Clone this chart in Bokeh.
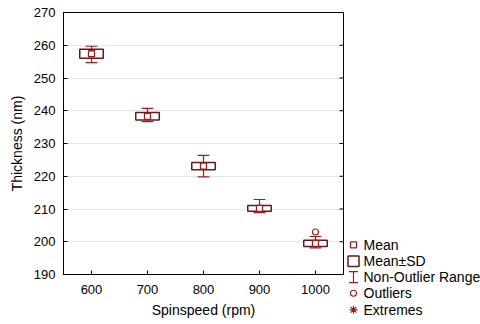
import numpy as np
from bokeh.plotting import figure
from bokeh.layouts import row, column
from bokeh.models import Range1d, FixedTicker
from bokeh.core.properties import value
from bokeh.embed import file_html
from bokeh.resources import INLINE

# Film thickness by spin speed: mean, standard deviation, non-outlier range
speeds = [600, 700, 800, 900, 1000]
mean_nm = [257.4, 238.3, 223.1, 210.2, 199.5]
sd_nm = [1.4, 1.15, 1.1, 0.9, 0.95]
range_min = [254.7, 236.7, 219.8, 208.9, 198.1]
range_max = [259.7, 240.7, 226.4, 212.9, 201.6]
outlier_speed = [1000]
outlier_nm = [203.0]

x_ticks = [600, 700, 800, 900, 1000]
y_ticks = [190, 200, 210, 220, 230, 240, 250, 260, 270]

FONT = "Liberation Sans"
BOX_COL = "#5e1c1c"
RED = "#a01c1c"
BOX_W = 42
CAP_W = 21

sp = np.array(speeds, dtype=float)
mu = np.array(mean_nm)
sd = np.array(sd_nm)

xr = Range1d(550, 1050)
yr = Range1d(190, 270)
p = figure(width=346, height=324, output_backend="svg", toolbar_location=None,
           x_range=xr, y_range=yr,
           min_border_left=63, min_border_right=3, min_border_top=12,
           min_border_bottom=50)
p.outline_line_color = "black"
p.outline_line_width = 1
p.xgrid.visible = False
p.ygrid.grid_line_color = "#e6e6e6"
p.ygrid.ticker = FixedTicker(ticks=y_ticks)

# inward ticks along the right edge of the frame
tick_len = 4 * (xr.end - xr.start) / 280
p.segment(x0=[xr.end] * len(y_ticks), y0=y_ticks,
          x1=[xr.end - tick_len] * len(y_ticks), y1=y_ticks,
          line_color="black", line_width=1)

# whiskers (non-outlier range) with caps
p.segment(x0=sp, y0=np.array(range_min), x1=sp, y1=np.array(range_max),
          line_color=RED, line_width=1.2)
p.segment(x0=sp - CAP_W / 2, y0=np.array(range_min), x1=sp + CAP_W / 2,
          y1=np.array(range_min), line_color=RED, line_width=1.2)
p.segment(x0=sp - CAP_W / 2, y0=np.array(range_max), x1=sp + CAP_W / 2,
          y1=np.array(range_max), line_color=RED, line_width=1.2)

# mean +/- SD boxes
p.rect(x=sp, y=mu, width=BOX_W, height=2 * sd, fill_color="white",
       line_color=BOX_COL, line_width=1.5)
# mean markers
p.scatter(x=sp, y=mu, marker="square", size=6, fill_color="white",
          line_color=RED, line_width=1.3)
# outliers
p.scatter(x=outlier_speed, y=outlier_nm, marker="circle", size=6,
          fill_color="white", line_color=RED, line_width=1.1)

for ax in (p.xaxis[0], p.yaxis[0]):
    ax.major_tick_in = 4
    ax.major_tick_out = 0
    ax.minor_tick_line_color = None
    ax.axis_line_color = "black"
    ax.major_tick_line_color = "black"
    ax.major_label_text_font = FONT
    ax.major_label_text_font_size = "13px"
    ax.major_label_text_color = "black"
    ax.axis_label_text_font = FONT
    ax.axis_label_text_font_size = "14px"
    ax.axis_label_text_font_style = "normal"
    ax.axis_label_text_color = "black"

p.xaxis.ticker = FixedTicker(ticks=x_ticks)
p.yaxis.ticker = FixedTicker(ticks=y_ticks)
p.xaxis.axis_label = "Spinspeed (rpm)"
p.yaxis.axis_label = "Thickness (nm)"
p.xaxis.major_label_standoff = 10
p.xaxis.axis_label_standoff = 5
p.yaxis.major_label_standoff = 8
p.yaxis.axis_label_standoff = 6

# legend panel (coordinates in pixels of the panel)
lw = 480 - 346
leg = figure(frame_width=lw, frame_height=324, output_backend="svg",
             toolbar_location=None,
             x_range=Range1d(0, lw), y_range=Range1d(324, 0),
             x_axis_location=None, y_axis_location=None,
             min_border_left=0, min_border_right=0, min_border_top=0,
             min_border_bottom=0, outline_line_color=None)
leg.grid.visible = False

kx = 7
rows_y = [244.3, 260.7, 276.7, 292.7, 309.3]
labels = ["Mean", "Mean\u00b1SD", "Non-Outlier Range", "Outliers", "Extremes"]

leg.scatter(x=[kx], y=[rows_y[0]], marker="square", size=6, fill_color="white",
            line_color=RED, line_width=1.3)
leg.rect(x=[kx], y=[rows_y[1]], width=11, height=10.5, fill_color="white",
         line_color=BOX_COL, line_width=1.5)
yi = rows_y[2]
leg.segment(x0=[kx, kx - 4.5, kx - 4.5], y0=[yi - 5.5, yi - 5.5, yi + 5.5],
            x1=[kx, kx + 4.5, kx + 4.5], y1=[yi + 5.5, yi - 5.5, yi + 5.5],
            line_color=RED, line_width=1.2)
leg.scatter(x=[kx], y=[rows_y[3]], marker="circle", size=6, fill_color="white",
            line_color=RED, line_width=1.1)
leg.scatter(x=[kx], y=[rows_y[4]], marker="asterisk", size=8,
            line_color=RED, line_width=1.2)
leg.text(x=[17] * 5, y=rows_y, text=labels, text_font=value(FONT),
         text_font_size="14px", text_baseline="middle", text_align="left",
         text_color="black")

layout = row(p, column(leg), spacing=0)

with open("out.html", "w") as f:
    f.write(file_html(layout, INLINE))
